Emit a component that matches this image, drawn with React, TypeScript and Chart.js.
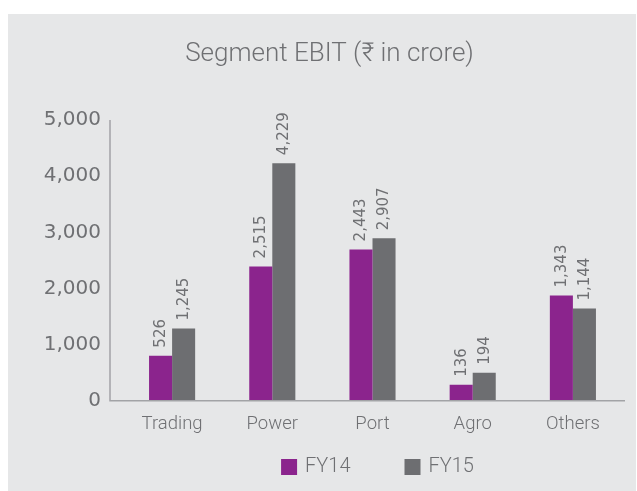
import { useEffect, useRef } from 'react';
import { Chart, registerables } from 'chart.js';

Chart.register(...registerables);

// ---- data ----
const categories = ['Trading', 'Power', 'Port', 'Agro', 'Others'];
const seriesNames = ['FY14', 'FY15'];
// bar heights as drawn in the picture
const fy14Values = [804, 2393, 2696, 286, 1875];
const fy15Values = [1286, 4232, 2893, 500, 1643];
// value labels as printed above the bars
const fy14Labels = ['526', '2,515', '2,443', '136', '1,343'];
const fy15Labels = ['1,245', '4,229', '2,907', '194', '1,144'];
const yTickValues = [0, 1000, 2000, 3000, 4000, 5000];
const titleText = 'Segment EBIT (₹ in crore)';

// ---- styles ----
const BG = '#e6e7e8';
const PURPLE = '#8b248d';
const GRAY = '#6d6e71';
const TEXT = '#6f7073';
const AXIS = '#a2a3a6';
const TEXT_FONT = "Roboto, 'Noto Sans', sans-serif";
const NUM_FONT = "'DejaVu Sans', sans-serif";

const valueLabels = [fy14Labels, fy15Labels];

const decorPlugin = {
  id: 'decor',
  afterDatasetsDraw(chart: any) {
    const { ctx, chartArea, scales } = chart;
    const ys = scales.y;
    ctx.save();
    // axis lines
    ctx.strokeStyle = AXIS;
    ctx.lineWidth = 1.5;
    const x0 = chartArea.left - 12;
    const yTop = ys.getPixelForValue(yTickValues[yTickValues.length - 1]);
    const yBase = ys.getPixelForValue(0);
    ctx.beginPath();
    ctx.moveTo(x0, yTop);
    ctx.lineTo(x0, yBase);
    ctx.lineTo(chartArea.right + 2, yBase);
    ctx.stroke();

    // rotated value labels
    ctx.fillStyle = TEXT;
    ctx.font = `15px ${NUM_FONT}`;
    ctx.textAlign = 'left';
    ctx.textBaseline = 'middle';
    chart.data.datasets.forEach((_ds: any, di: number) => {
      const meta = chart.getDatasetMeta(di);
      meta.data.forEach((bar: any, i: number) => {
        ctx.save();
        ctx.translate(bar.x + 0.5, bar.y - 8);
        ctx.rotate(-Math.PI / 2);
        ctx.fillText(valueLabels[di][i], 0, 0);
        ctx.restore();
      });
    });

    // legend
    const boxSize = 16;
    const boxGap = 8;
    const itemGap = 54;
    ctx.font = `300 20px ${TEXT_FONT}`;
    const widths = chart.data.datasets.map(
      (ds: any) => boxSize + boxGap + ctx.measureText(ds.label).width
    );
    const total = widths.reduce((a: number, b: number) => a + b, 0) + itemGap * (widths.length - 1);
    let x = (chartArea.left + chartArea.right) / 2 + 5 - total / 2;
    const cy = 453;
    chart.data.datasets.forEach((ds: any, di: number) => {
      ctx.fillStyle = ds.backgroundColor;
      ctx.fillRect(x, cy - boxSize / 2, boxSize, boxSize);
      ctx.fillStyle = TEXT;
      ctx.textAlign = 'left';
      ctx.textBaseline = 'middle';
      ctx.fillText(ds.label, x + boxSize + boxGap, cy);
      x += widths[di] + itemGap;
    });
    ctx.restore();
  },
};

export default function App() {
  const ref = useRef<HTMLCanvasElement>(null);

  useEffect(() => {
    if (!ref.current) return;
    const chart = new Chart(ref.current, {
      type: 'bar',
      data: {
        labels: categories,
        datasets: [
          {
            label: seriesNames[0],
            data: fy14Values,
            backgroundColor: PURPLE,
            borderWidth: 0,
            categoryPercentage: 0.46,
            barPercentage: 1,
          },
          {
            label: seriesNames[1],
            data: fy15Values,
            backgroundColor: GRAY,
            borderWidth: 0,
            categoryPercentage: 0.46,
            barPercentage: 1,
          },
        ],
      },
      options: {
        responsive: false,
        animation: false,
        layout: { padding: { left: 28, right: 13, top: 0, bottom: 44 } },
        plugins: {
          legend: { display: false },
          tooltip: { enabled: false },
          title: {
            display: true,
            text: titleText,
            color: TEXT,
            font: { family: TEXT_FONT, size: 26, weight: 300 as any },
            padding: { top: 24.5, bottom: 50.3 },
          },
        },
        scales: {
          x: {
            grid: { display: false, drawTicks: false },
            border: { display: false },
            ticks: {
              color: TEXT,
              padding: 12,
              font: { family: TEXT_FONT, size: 18.5, weight: 300 as any },
            },
          },
          y: {
            min: 0,
            max: 5000,
            grid: { display: false, drawTicks: false },
            border: { display: false },
            afterBuildTicks: (scale: any) => {
              scale.ticks = yTickValues.map((v) => ({ value: v }));
            },
            afterFit: (scale: any) => {
              scale.width = 86;
            },
            ticks: {
              color: TEXT,
              padding: 21,
              font: { family: NUM_FONT, size: 20 },
              callback: (v: any) => Number(v).toLocaleString('en-US'),
            },
          },
        },
      },
      plugins: [decorPlugin],
    });
    return () => chart.destroy();
  }, []);

  return (
    <div
      style={{
        position: 'absolute',
        left: 8,
        top: 14,
        width: 628,
        height: 477,
        background: BG,
      }}
    >
      <canvas ref={ref} width={628} height={477} />
    </div>
  );
}
